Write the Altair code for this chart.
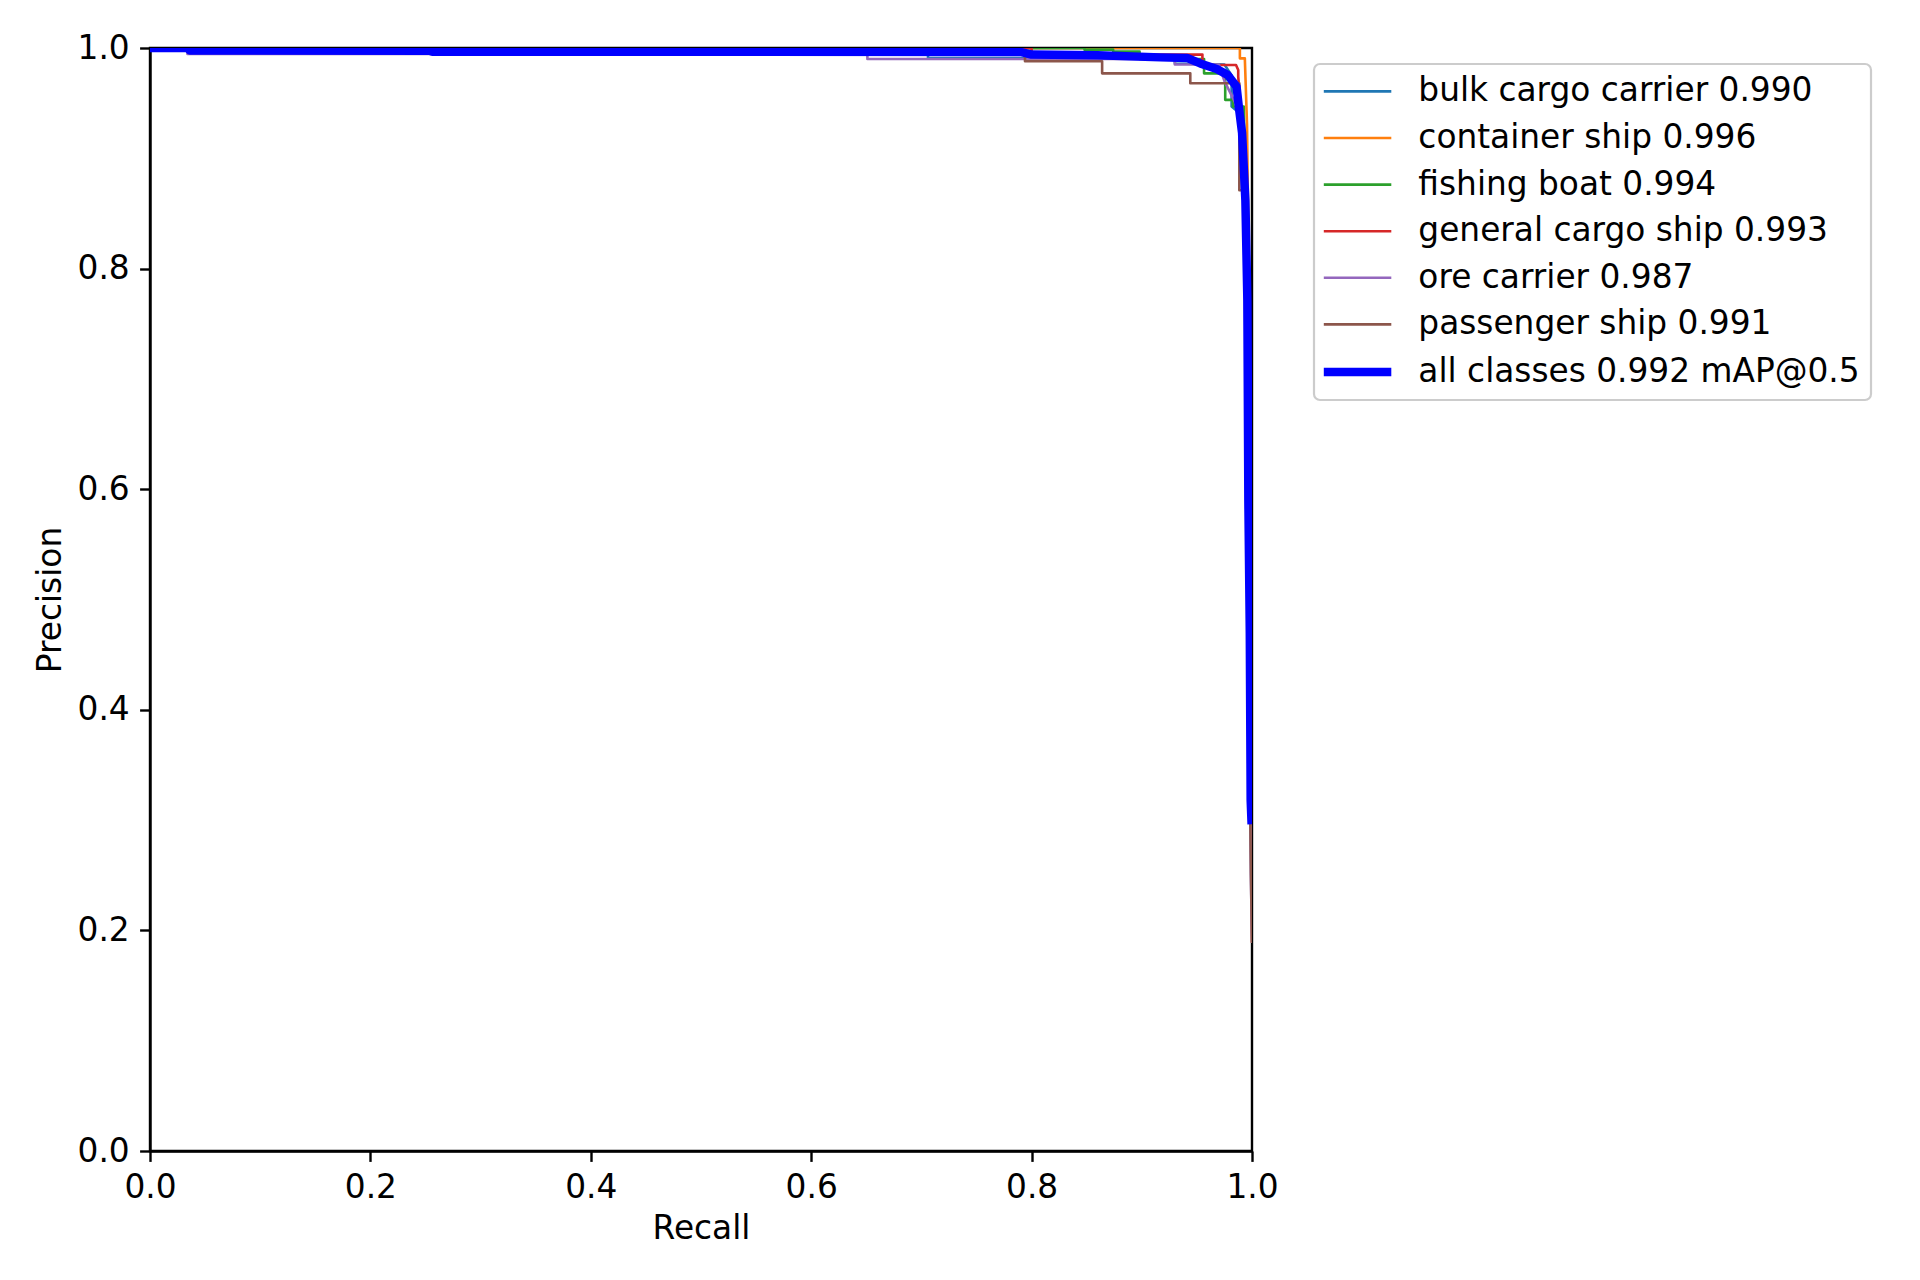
import altair as alt
import pandas as pd

# ---- data ----
labels = [
    "bulk cargo carrier 0.990",
    "container ship 0.996",
    "fishing boat 0.994",
    "general cargo ship 0.993",
    "ore carrier 0.987",
    "passenger ship 0.991",
    "all classes 0.992 mAP@0.5",
]
colors = ["#1f77b4", "#ff7f0e", "#2ca02c", "#d62728", "#9467bd", "#8c564b", "#0000ff"]
widths = [2.6, 2.6, 2.6, 2.6, 2.6, 2.6, 8.5]
tick_values = [0.0, 0.2, 0.4, 0.6, 0.8, 1.0]

bulk_r = [0.0, 0.05, 0.05, 0.706, 0.706, 0.79, 0.93, 0.93, 0.975, 0.9815, 0.9815, 0.99, 0.994, 0.997, 0.999, 1.0]
bulk_p = [1.0, 1.0, 0.998, 0.998, 0.9908, 0.9908, 0.9905, 0.986, 0.985, 0.975, 0.947, 0.94, 0.86, 0.55, 0.36, 0.35]

container_r = [0.0, 0.989, 0.989, 0.9935, 0.9955, 0.997, 0.998, 0.999, 1.0]
container_p = [1.0, 1.0, 0.9906, 0.9906, 0.93, 0.80, 0.55, 0.30, 0.19]

fishing_r = [0.0, 0.848, 0.848, 0.874, 0.874, 0.898, 0.898, 0.9565, 0.9565, 0.9757, 0.9757, 0.9827, 0.9827, 0.9925, 0.995, 0.997, 0.999, 1.0]
fishing_p = [1.0, 1.0, 0.9985, 0.9985, 0.9967, 0.9967, 0.990, 0.990, 0.977, 0.977, 0.953, 0.953, 0.947, 0.947, 0.80, 0.55, 0.42, 0.40]

general_r = [0.0, 0.80, 0.80, 0.955, 0.955, 0.9855, 0.9875, 0.9875, 0.991, 0.994, 0.997, 0.999, 1.0]
general_p = [1.0, 1.0, 0.994, 0.994, 0.9846, 0.9846, 0.980, 0.974, 0.93, 0.85, 0.55, 0.40, 0.38]

ore_r = [0.0, 0.034, 0.034, 0.651, 0.651, 0.93, 0.93, 0.97, 0.975, 0.985, 0.99, 0.994, 0.996, 0.998, 0.999, 1.0]
ore_p = [1.0, 1.0, 0.9946, 0.9946, 0.990, 0.990, 0.985, 0.985, 0.97, 0.95, 0.93, 0.85, 0.55, 0.35, 0.25, 0.19]

passenger_r = [0.0, 0.25, 0.25, 0.794, 0.794, 0.864, 0.864, 0.944, 0.944, 0.9885, 0.9885, 0.993, 0.995, 0.997, 0.999, 1.0]
passenger_p = [1.0, 1.0, 0.995, 0.995, 0.988, 0.988, 0.977, 0.977, 0.968, 0.968, 0.871, 0.871, 0.60, 0.45, 0.25, 0.19]

mean_r = [0.0, 0.034, 0.036, 0.254, 0.256, 0.79, 0.80, 0.86, 0.917, 0.941, 0.953, 0.968, 0.978, 0.986, 0.988, 0.991, 0.994, 0.9958, 0.9967, 0.998, 0.9988, 0.9995]
mean_p = [1.0, 1.0, 0.9978, 0.9975, 0.9966, 0.9964, 0.994, 0.9935, 0.9915, 0.991, 0.986, 0.981, 0.9755, 0.965, 0.947, 0.923, 0.862, 0.771, 0.59, 0.47, 0.318, 0.30]

series = [
    (bulk_r, bulk_p),
    (container_r, container_p),
    (fishing_r, fishing_p),
    (general_r, general_p),
    (ore_r, ore_p),
    (passenger_r, passenger_p),
    (mean_r, mean_p),
]

rows = []
for lab, (rs, ps) in zip(labels, series):
    for k, (r, p) in enumerate(zip(rs, ps)):
        rows.append({"series": lab, "recall": r, "precision": p, "i": k})
df = pd.DataFrame(rows)

FONT = "DejaVu Sans"
FS = 32.8

legend_props = dict(
    title=None,
    orient="none",
    legendX=1164,
    legendY=16,
    padding=11,
    labelFont=FONT,
    labelFontSize=FS,
    labelColor="black",
    labelLimit=0,
    symbolType="M-4,0H4",
    symbolSize=284.8,
    symbolOffset=16.15,
    labelOffset=44.4,
    rowPadding=12.6,
    strokeColor="#cccccc",
    fillColor="white",
    cornerRadius=6,
)

base = alt.Chart(df).mark_line(clip=True, strokeJoin="round", strokeCap="square").encode(
    x=alt.X(
        "recall:Q",
        scale=alt.Scale(domain=[0, 1], nice=False, zero=False),
        axis=alt.Axis(values=tick_values, format=".1f", title="Recall", titlePadding=8),
    ),
    y=alt.Y(
        "precision:Q",
        scale=alt.Scale(domain=[0, 1], nice=False, zero=False),
        axis=alt.Axis(values=tick_values, format=".1f", title="Precision", titlePadding=10),
    ),
    color=alt.Color(
        "series:N",
        scale=alt.Scale(domain=labels, range=colors),
        legend=alt.Legend(**legend_props),
    ),
    strokeWidth=alt.StrokeWidth(
        "series:N",
        scale=alt.Scale(type="ordinal", domain=labels, range=widths),
        legend=alt.Legend(**legend_props),
    ),
    order=alt.Order("i:Q"),
)

classes = base.transform_filter(alt.datum.series != labels[-1])
mean = base.transform_filter(alt.datum.series == labels[-1])

chart = (
    alt.layer(classes, mean)
    .properties(
        width=1102,
        height=1103,
        padding={"left": 142, "top": 40, "right": 640, "bottom": 110},
        autosize=alt.AutoSizeParams(type="none"),
        background="white",
    )
    .configure_view(stroke="black", strokeWidth=2.4)
    .configure_axis(
        grid=False,
        domainColor="black",
        domainWidth=2.4,
        tickColor="black",
        tickWidth=2.4,
        tickSize=10.4,
        labelFont=FONT,
        labelFontSize=FS,
        labelColor="black",
        labelPadding=10.4,
        labelFlush=False,
        titleFont=FONT,
        titleFontSize=FS,
        titleFontWeight="normal",
        titleColor="black",
        zindex=1,
    )
    .configure_legend(strokeWidth=2.2)
)

chart.save("out.html", embed_options={"renderer": "svg", "actions": False})
